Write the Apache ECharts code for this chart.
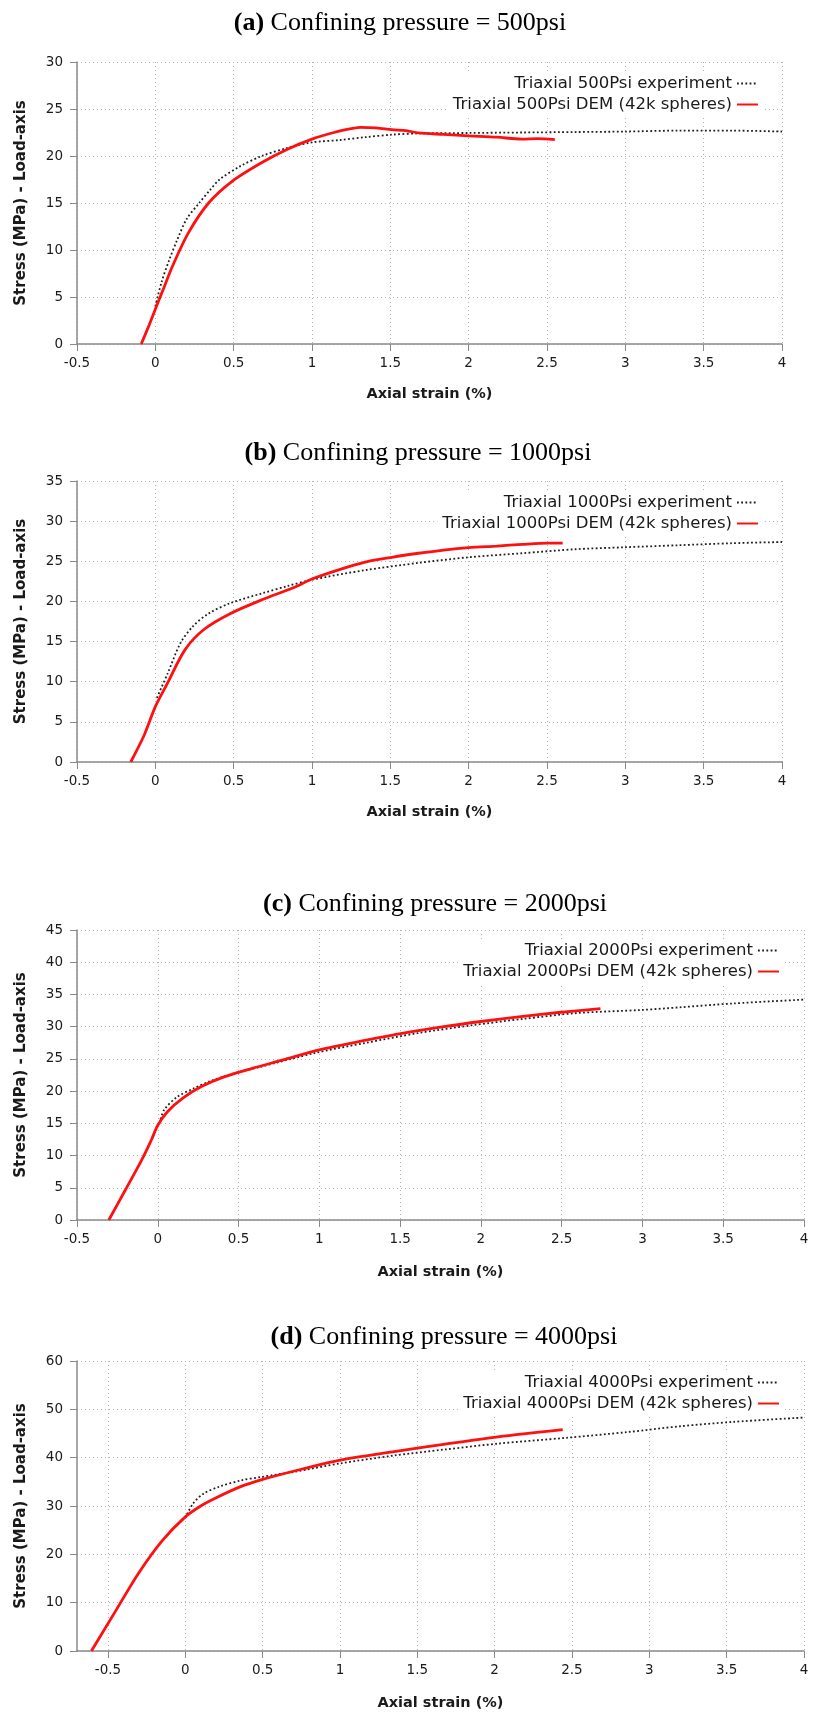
<!DOCTYPE html>
<html>
<head>
<meta charset="utf-8">
<script src="https://cdn.jsdelivr.net/npm/echarts@6/dist/echarts.min.js"></script>
<style>
  html, body { margin: 0; padding: 0; background: #fff; }
  #chart { width: 816px; height: 1713px; }
</style>
</head>
<body>
<div id="chart"></div>
<script>
// tick labels shared by the strain axes
const strainTicks = [-0.5, 0, 0.5, 1, 1.5, 2, 2.5, 3, 3.5, 4];

// (a) 500 psi
const expStrainA = [0.0, 0.04, 0.09, 0.14, 0.2, 0.28, 0.35, 0.41, 0.54, 0.68, 0.84, 1.0, 1.18, 1.34, 1.51, 1.68, 2.0, 2.34, 2.68, 3.0, 3.34, 3.68, 4.0];
const expStressA = [4.0, 6.6, 9.0, 11.1, 13.3, 15.0, 16.4, 17.5, 18.9, 20.0, 20.85, 21.45, 21.7, 22.0, 22.27, 22.4, 22.45, 22.5, 22.55, 22.6, 22.7, 22.7, 22.6];
const demStrainA = [-0.09, -0.04, 0.0, 0.05, 0.11, 0.21, 0.34, 0.49, 0.68, 0.84, 1.0, 1.14, 1.25, 1.31, 1.41, 1.51, 1.6, 1.68, 1.84, 2.0, 2.18, 2.34, 2.44, 2.55];
const demStressA = [0, 2.0, 3.7, 5.8, 8.3, 11.8, 15.0, 17.3, 19.3, 20.7, 21.8, 22.5, 22.9, 23.05, 23.0, 22.8, 22.7, 22.45, 22.3, 22.15, 22.0, 21.8, 21.85, 21.75];

// (b) 1000 psi
const expStrainB = [0.01, 0.08, 0.16, 0.24, 0.34, 0.48, 0.68, 0.84, 1.0, 1.34, 1.68, 2.0, 2.34, 2.68, 3.0, 3.34, 3.68, 4.0];
const expStressB = [8.0, 11.1, 14.8, 16.9, 18.5, 19.8, 21.0, 21.9, 22.7, 23.9, 24.8, 25.5, 26.0, 26.5, 26.75, 27.0, 27.25, 27.4];
const demStrainB = [-0.157, -0.07, 0.0, 0.077, 0.19, 0.31, 0.48, 0.68, 0.88, 1.0, 1.18, 1.34, 1.51, 1.68, 1.84, 2.0, 2.18, 2.34, 2.51, 2.6];
const demStressB = [0, 3.4, 6.9, 9.8, 14.0, 16.5, 18.5, 20.2, 21.7, 22.8, 24.0, 24.9, 25.5, 26.0, 26.4, 26.7, 26.9, 27.1, 27.25, 27.25];

// (c) 2000 psi
const expStrainC = [0.01, 0.04, 0.12, 0.22, 0.32, 0.48, 0.64, 0.97, 1.29, 1.61, 1.94, 2.26, 2.59, 3.0, 3.23, 3.56, 4.0];
const expStressC = [15.0, 17.1, 19.1, 20.4, 21.5, 22.8, 23.8, 25.9, 27.5, 29.0, 30.2, 31.2, 32.1, 32.6, 33.0, 33.6, 34.2];
const demStrainC = [-0.303, -0.2, -0.1, -0.04, 0.0, 0.06, 0.155, 0.27, 0.41, 0.58, 0.77, 1.0, 1.29, 1.52, 1.77, 2.0, 2.26, 2.48, 2.74];
const demStressC = [0, 4.7, 9.3, 12.4, 14.7, 16.8, 18.9, 20.7, 22.2, 23.5, 24.8, 26.4, 27.9, 29.0, 30.0, 30.8, 31.6, 32.2, 32.8];

// (d) 4000 psi
const expStrainD = [0.0, 0.05, 0.12, 0.22, 0.36, 0.49, 0.7, 1.0, 1.34, 1.68, 2.02, 2.46, 2.86, 3.2, 3.54, 4.0];
const expStressD = [27.5, 30.5, 32.6, 34.0, 35.3, 36.0, 37.05, 38.8, 40.4, 41.7, 42.9, 44.1, 45.3, 46.5, 47.4, 48.3];
const demStrainD = [-0.607, -0.45, -0.3, -0.15, 0.0, 0.1, 0.2, 0.35, 0.5, 0.75, 1.0, 1.34, 1.68, 2.02, 2.44];
const demStressD = [0, 8.3, 16.2, 22.8, 27.75, 30.0, 31.7, 33.9, 35.5, 37.6, 39.5, 41.2, 42.8, 44.3, 45.8];

const pressures = ['500', '1000', '2000', '4000'];
const letters = ['a', 'b', 'c', 'd'];
const stressMax = [30, 35, 45, 60];
const stressStep = [5, 5, 5, 10];
const strainMin = [-0.5, -0.5, -0.5, -0.7];

const expData = [[expStrainA, expStressA], [expStrainB, expStressB], [expStrainC, expStressC], [expStrainD, expStressD]];
const demData = [[demStrainA, demStressA], [demStrainB, demStressB], [demStrainC, demStressC], [demStrainD, demStressD]];

function zip(xs, ys) {
  return xs.map((x, i) => [x, ys[i]]);
}

// layout of each panel (px)
const layout = [
  { top: 62, height: 282, width: 705, titleX: 400, titleY: 10, legendTop: 72, legendRight: 52, nameGap: 43 },
  { top: 481, height: 281, width: 705, titleX: 418, titleY: 440, legendTop: 491, legendRight: 52, nameGap: 43 },
  { top: 930, height: 290, width: 727, titleX: 435, titleY: 891, legendTop: 939, legendRight: 31, nameGap: 45 },
  { top: 1361, height: 290, width: 727, titleX: 444, titleY: 1324, legendTop: 1371, legendRight: 31, nameGap: 45 }
];

const FONT = 'DejaVu Sans';
const gridColor = '#b4b4b4';
const axisColor = '#8a8a8a';

const option = {
  animation: false,
  backgroundColor: '#fff',
  textStyle: { fontFamily: FONT },
  title: [],
  legend: [],
  grid: [],
  xAxis: [],
  yAxis: [],
  series: []
};

for (let i = 0; i < 4; i++) {
  const L = layout[i];
  const expName = 'Triaxial ' + pressures[i] + 'Psi experiment';
  const demName = 'Triaxial ' + pressures[i] + 'Psi DEM (42k spheres)';

  option.title.push({
    text: '{b|(' + letters[i] + ')} Confining pressure = ' + pressures[i] + 'psi',
    left: L.titleX,
    top: L.titleY,
    textAlign: 'center',
    padding: 0,
    textStyle: {
      fontFamily: 'Liberation Serif', fontSize: 26, fontWeight: 'normal', color: '#000',
      rich: { b: { fontFamily: 'Liberation Serif', fontSize: 26, fontWeight: 'bold', color: '#000' } }
    }
  });

  option.legend.push({
    data: [expName, demName],
    orient: 'vertical',
    align: 'right',
    right: L.legendRight,
    top: L.legendTop,
    itemWidth: 21,
    itemHeight: 14,
    itemGap: 4,
    padding: [3, 5, 3, 5],
    backgroundColor: '#fff',
    selectedMode: false,
    // hide the marker dot, keep only the line sample
    itemStyle: { color: 'rgba(0,0,0,0)', borderColor: 'rgba(0,0,0,0)', borderWidth: 0, opacity: 0 },
    textStyle: { fontFamily: FONT, fontSize: 16.5, color: '#1a1a1a', lineHeight: 16 }
  });

  option.grid.push({ left: 77, top: L.top, width: L.width, height: L.height, outerBoundsMode: 'none' });

  const xAxis = {
    type: 'value',
    gridIndex: i,
    min: strainMin[i],
    max: 4,
    name: 'Axial strain (%)',
    nameLocation: 'middle',
    nameGap: L.nameGap,
    nameTextStyle: { fontFamily: FONT, fontSize: 14.5, fontWeight: 'bold', color: '#1a1a1a' },
    axisLine: { show: true, onZero: false, lineStyle: { color: axisColor, width: 1.5 } },
    axisTick: { show: true, length: 7, lineStyle: { color: axisColor } },
    axisLabel: { fontFamily: FONT, fontSize: 13.5, color: '#1a1a1a', margin: 12 },
    splitLine: { show: true, lineStyle: { color: gridColor, type: [1, 3], width: 1 } }
  };
  if (strainMin[i] === -0.5) {
    xAxis.interval = 0.5;
  } else {
    xAxis.splitNumber = 9;
    xAxis.axisLabel.customValues = strainTicks;
    xAxis.axisTick.customValues = strainTicks;
  }
  option.xAxis.push(xAxis);

  option.yAxis.push({
    type: 'value',
    gridIndex: i,
    min: 0,
    max: stressMax[i],
    interval: stressStep[i],
    name: 'Stress (MPa) - Load-axis',
    nameLocation: 'middle',
    nameGap: 48,
    nameTextStyle: { fontFamily: FONT, fontSize: 15, fontWeight: 'bold', color: '#1a1a1a' },
    axisLine: { show: true, onZero: false, lineStyle: { color: axisColor, width: 1.5 } },
    axisTick: { show: true, length: 7, lineStyle: { color: axisColor } },
    axisLabel: { fontFamily: FONT, fontSize: 13.5, color: '#1a1a1a', margin: 14 },
    splitLine: { show: true, lineStyle: { color: gridColor, type: [1, 3], width: 1 } }
  });

  option.series.push({
    name: expName,
    type: 'line',
    xAxisIndex: i,
    yAxisIndex: i,
    data: zip(expData[i][0], expData[i][1]),
    symbol: 'none',
    smooth: 0.3,
    lineStyle: { color: '#1e1e1e', width: 1.8, type: [1.8, 2.4] },
    itemStyle: { color: '#1e1e1e' }
  });
  option.series.push({
    name: demName,
    type: 'line',
    xAxisIndex: i,
    yAxisIndex: i,
    data: zip(demData[i][0], demData[i][1]),
    symbol: 'none',
    smooth: 0.3,
    lineStyle: { color: '#ff1010', width: 2.8 },
    itemStyle: { color: '#ff1010' }
  });
}

const chart = echarts.init(document.getElementById('chart'), null, { renderer: 'canvas' });
chart.setOption(option);
</script>
</body>
</html>
